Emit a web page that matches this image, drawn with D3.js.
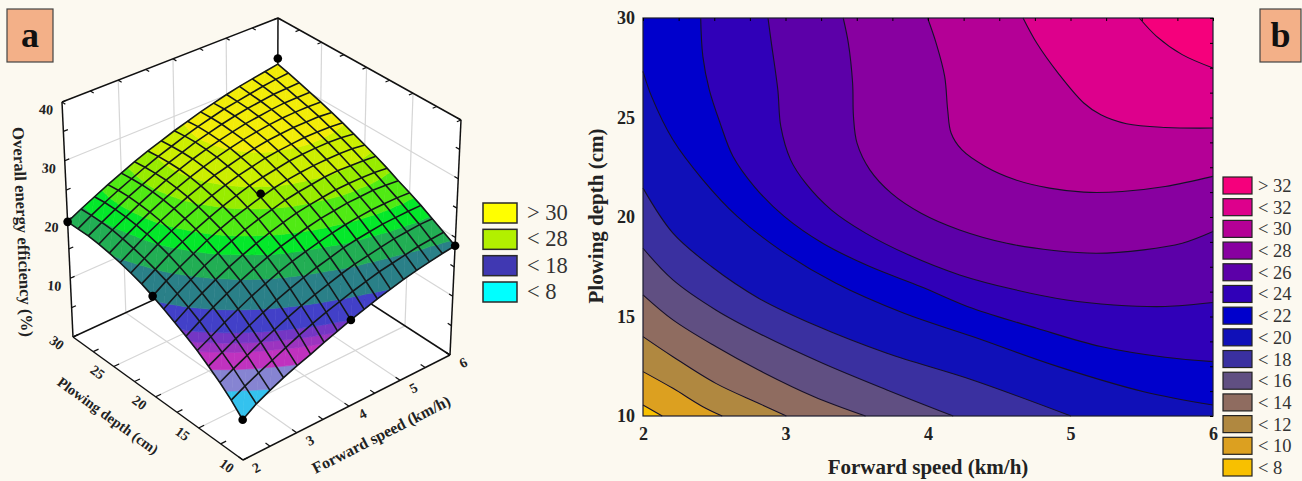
<!DOCTYPE html>
<html>
<head>
<meta charset="utf-8">
<script src="https://cdn.jsdelivr.net/npm/d3@7"></script>
<style>
html, body { margin: 0; padding: 0; background: #fcf9f0; }
svg { display: block; }
text { font-family: "Liberation Serif", serif; }
</style>
</head>
<body>
<svg id="chart" width="1302" height="481"></svg>
<script>
// panel a: surface, rows are plowing depth, columns forward speed
const surfaceSpeeds = [2, 2.25, 2.5, 2.75, 3, 3.25, 3.5, 3.75, 4, 4.25, 4.5, 4.75, 5, 5.25, 5.5, 5.75, 6];
const surfaceDepths = [10, 11.25, 12.5, 13.75, 15, 16.25, 17.5, 18.75, 20, 21.25, 22.5, 23.75, 25, 26.25, 27.5, 28.75, 30];
const surfaceValues = [
  [6.6, 8.1, 9.2, 10.2, 11.1, 11.9, 12.8, 13.6, 14.4, 15.1, 15.8, 16.4, 17.0, 17.5, 17.9, 18.3, 18.6],
  [8.5, 9.7, 10.8, 11.8, 12.8, 13.8, 14.7, 15.5, 16.2, 16.9, 17.5, 18.1, 18.5, 18.9, 19.3, 19.5, 19.7],
  [10.1, 11.3, 12.4, 13.5, 14.5, 15.5, 16.4, 17.2, 17.9, 18.6, 19.2, 19.6, 20.0, 20.4, 20.6, 20.8, 20.8],
  [11.5, 12.7, 13.9, 15.0, 16.1, 17.1, 18.0, 18.8, 19.5, 20.1, 20.7, 21.1, 21.4, 21.7, 21.8, 21.9, 21.9],
  [12.8, 14.0, 15.3, 16.5, 17.6, 18.6, 19.5, 20.3, 20.9, 21.5, 22.0, 22.4, 22.7, 22.9, 23.0, 23.0, 22.9],
  [13.9, 15.3, 16.6, 17.8, 18.9, 19.9, 20.8, 21.6, 22.2, 22.8, 23.3, 23.6, 23.9, 24.0, 24.1, 24.0, 23.8],
  [14.9, 16.4, 17.7, 18.9, 20.0, 21.0, 21.9, 22.7, 23.4, 24.0, 24.4, 24.7, 25.0, 25.1, 25.1, 25.0, 24.8],
  [15.9, 17.4, 18.7, 20.0, 21.1, 22.1, 23.0, 23.8, 24.4, 25.0, 25.4, 25.7, 26.0, 26.1, 26.0, 25.9, 25.7],
  [16.8, 18.3, 19.6, 20.8, 22.0, 23.0, 23.9, 24.6, 25.3, 25.9, 26.3, 26.6, 26.8, 26.9, 26.9, 26.8, 26.5],
  [17.6, 19.0, 20.4, 21.6, 22.7, 23.7, 24.6, 25.4, 26.1, 26.6, 27.0, 27.4, 27.6, 27.7, 27.7, 27.6, 27.3],
  [18.2, 19.6, 21.0, 22.2, 23.3, 24.3, 25.2, 26.0, 26.7, 27.2, 27.7, 28.0, 28.2, 28.4, 28.4, 28.3, 28.1],
  [18.7, 20.1, 21.5, 22.7, 23.8, 24.8, 25.7, 26.5, 27.1, 27.7, 28.2, 28.6, 28.8, 29.0, 29.0, 29.0, 28.8],
  [19.1, 20.5, 21.8, 23.0, 24.1, 25.1, 26.0, 26.8, 27.5, 28.1, 28.6, 29.0, 29.3, 29.5, 29.6, 29.6, 29.5],
  [19.4, 20.8, 22.0, 23.2, 24.3, 25.3, 26.2, 27.0, 27.7, 28.3, 28.8, 29.3, 29.6, 29.9, 30.1, 30.1, 30.1],
  [19.6, 20.9, 22.1, 23.3, 24.3, 25.3, 26.2, 27.0, 27.8, 28.4, 29.0, 29.5, 29.9, 30.2, 30.5, 30.6, 30.7],
  [19.6, 20.9, 22.1, 23.2, 24.2, 25.2, 26.1, 26.9, 27.7, 28.4, 29.0, 29.6, 30.0, 30.4, 30.8, 31.1, 31.3],
  [19.6, 20.8, 21.9, 23.0, 24.0, 25.0, 25.9, 26.7, 27.5, 28.2, 28.9, 29.5, 30.1, 30.6, 31.0, 31.4, 31.8]
];
// measured points shown as black dots: speed, depth, efficiency
const measuredPoints = [[6, 30, 32.8], [2, 30, 19.6], [6, 10, 18.6], [4, 20, 25.9], [2, 20, 16.8], [4, 10, 14.4], [2, 10, 6.6]];

const surfaceBreaks = [9.3, 11.2, 12.7, 13.5, 14.4, 16.4, 19, 21, 22.5, 24.5, 26, 28];
const surfaceColors = ["#34c2ee", "#8684d2", "#c032bf", "#9c34c0", "#7436c4", "#4240c8", "#2a8088", "#22ae54",
  "#04e82a", "#50ea14", "#98ec00", "#ccee00", "#f2ec08"];
const surfaceLegend = ["> 30", "< 28", "< 18", "< 8"];
const surfaceLegendColors = ["#ffff00", "#b2f000", "#4038b2", "#00ffff"];

const speedTicks = [2, 3, 4, 5, 6];
const depthTicks = [10, 15, 20, 25, 30];
const effTicks = [10, 20, 30, 40];

// panel b: contour lines, [speed, depth]
const contour8 = [[2, 10.55], [2.135, 10]];
const contour10 = [[2, 12.23], [2.21, 11.39], [2.42, 10.47], [2.556, 10]];
const contour12 = [[2, 13.99], [2.21, 12.98], [2.511, 11.64], [2.811, 10.64], [3.006, 10]];
const contour14 = [[2, 16.09], [2.21, 14.83], [2.511, 13.49], [2.811, 12.31], [3.201, 10.97], [3.562, 10]];
const contour16 = [[2, 18.43], [2.21, 16.84], [2.511, 15.33], [2.811, 14.16], [3.261, 12.65], [3.712, 11.31], [4.177, 10]];
const contour18 = [[2, 21.45], [2.21, 19.19], [2.48, 17.51], [2.811, 15.92], [3.201, 14.58], [3.712, 13.15], [4.312, 11.81], [5.003, 10]];
const contour20 = [[2, 27.32], [2.06, 26.06], [2.21, 23.88], [2.42, 21.87], [2.661, 20.03], [2.961, 18.35], [3.351, 16.68], [3.832, 15.16], [4.312, 13.99], [4.913, 12.48], [5.514, 11.22], [6, 10.55]];
const contour22 = [[2.405, 30], [2.42, 28.07], [2.465, 26.4], [2.541, 24.72], [2.631, 23.05], [2.781, 21.53], [2.991, 20.03], [3.261, 18.68], [3.592, 17.51], [3.952, 16.5], [4.312, 15.41], [4.763, 14.41], [5.213, 13.49], [5.664, 12.95], [6, 12.73]];
const contour24 = [[2.877, 30], [2.901, 28.74], [2.946, 26.4], [2.967, 24.55], [3.036, 22.87], [3.141, 21.7], [3.321, 20.36], [3.562, 19.19], [3.862, 18.1], [4.222, 17.09], [4.613, 16.34], [4.973, 15.83], [5.303, 15.58], [5.664, 15.5], [6, 15.7]];
const contour26 = [[3.405, 30], [3.441, 28.74], [3.471, 26.73], [3.477, 25.05], [3.502, 23.71], [3.592, 22.37], [3.742, 21.2], [3.952, 20.19], [4.222, 19.35], [4.553, 18.68], [4.883, 18.32], [5.183, 18.18], [5.514, 18.35], [5.784, 18.68], [6, 19.27]];
const contour28 = [[3.997, 30], [4.057, 28.74], [4.117, 27.07], [4.138, 25.39], [4.162, 24.22], [4.237, 23.38], [4.402, 22.54], [4.613, 21.87], [4.853, 21.45], [5.093, 21.25], [5.363, 21.28], [5.664, 21.53], [6, 22.04]];
const contour30 = [[4.667, 30], [4.763, 28.74], [4.913, 27.23], [5.093, 25.73], [5.213, 25.14], [5.393, 24.69], [5.664, 24.5], [6, 24.47]];
const contour32 = [[5.483, 30], [5.604, 29.08], [5.784, 28.16], [6, 27.49]];
const contourLines = [contour8, contour10, contour12, contour14, contour16, contour18, contour20, contour22, contour24, contour26, contour28, contour30, contour32];

const mapLegend = ["> 32", "< 32", "< 30", "< 28", "< 26", "< 24", "< 22", "< 20", "< 18", "< 16", "< 14", "< 12", "< 10", "< 8"];
const mapColors = ["#f5007c", "#dd008c", "#b40096", "#8800a0", "#5c00a8", "#3000b8", "#0000cc", "#1010b8",
  "#3a30a0", "#604f82", "#8f6c60", "#b08840", "#dca020", "#f8c000"];

const svg = d3.select("#chart");

// ---------- panel a ----------
// floor and top of the box: front, right, back, left corner
const floorQuad = [[243, 460], [450, 355], [277, 243], [73, 337]];
const topQuad = [[241, 216], [461, 120], [278, 18], [62, 102]];

function homography(q) {
  const [x0, y0] = q[0], [x1, y1] = q[1], [x2, y2] = q[2], [x3, y3] = q[3];
  const dx1 = x1 - x2, dx2 = x3 - x2, sx = x0 - x1 + x2 - x3;
  const dy1 = y1 - y2, dy2 = y3 - y2, sy = y0 - y1 + y2 - y3;
  const den = dx1 * dy2 - dx2 * dy1;
  const g = (sx * dy2 - dx2 * sy) / den, h = (dx1 * sy - sx * dy1) / den;
  const a = x1 - x0 + g * x1, b = x3 - x0 + h * x3, d = y1 - y0 + g * y1, e = y3 - y0 + h * y3;
  return (u, v) => {
    const w = g * u + h * v + 1;
    return [(a * u + b * v + x0) / w, (d * u + e * v + y0) / w];
  };
}
const floorMap = homography(floorQuad), topMap = homography(topQuad);
const uScale = d3.scaleLinear().domain([2, 6]).range([0, 1]);
const vScale = d3.scaleLinear().domain([10, 30]).range([0, 1]);
const zScale = d3.scaleLinear().domain([0, 40]).range([0, 1]);

function project(speed, depth, eff) {
  const u = uScale(speed), v = vScale(depth), t = zScale(eff);
  const f = floorMap(u, v), c = topMap(u, v);
  return [f[0] + (c[0] - f[0]) * t, f[1] + (c[1] - f[1]) * t];
}
const pathOf = d3.line();
const gA = svg.append("g");

// walls and floor
const walls = [
  [[2, 10, 0], [6, 10, 0], [6, 30, 0], [2, 30, 0]],
  [[2, 30, 0], [6, 30, 0], [6, 30, 40], [2, 30, 40]],
  [[6, 10, 0], [6, 30, 0], [6, 30, 40], [6, 10, 40]]
];
gA.selectAll(".wall").data(walls).join("path").attr("class", "wall")
  .attr("d", w => pathOf(w.map(p => project(...p))) + "Z").attr("fill", "#fff");

const gridLines = [];
[3, 4, 5].forEach(s => {
  gridLines.push([[s, 10, 0], [s, 30, 0]]);
  gridLines.push([[s, 30, 0], [s, 30, 40]]);
});
[15, 20, 25].forEach(d => {
  gridLines.push([[2, d, 0], [6, d, 0]]);
  gridLines.push([[6, d, 0], [6, d, 40]]);
});
[10, 20, 30].forEach(z => {
  gridLines.push([[2, 30, z], [6, 30, z]]);
  gridLines.push([[6, 10, z], [6, 30, z]]);
});
gA.selectAll(".grid3d").data(gridLines).join("path").attr("class", "grid3d")
  .attr("d", l => pathOf(l.map(p => project(...p))))
  .attr("stroke", "#d6d6d6").attr("stroke-width", 1.2).attr("fill", "none");

const boxEdges = [
  [[2, 10, 0], [6, 10, 0]], [[2, 10, 0], [2, 30, 0]], [[2, 30, 0], [6, 30, 0]], [[6, 10, 0], [6, 30, 0]],
  [[2, 30, 0], [2, 30, 40]], [[6, 10, 0], [6, 10, 40]], [[6, 30, 0], [6, 30, 40]],
  [[2, 30, 40], [6, 30, 40]], [[6, 10, 40], [6, 30, 40]]
];
gA.selectAll(".edge").data(boxEdges).join("path").attr("class", "edge")
  .attr("d", l => pathOf(l.map(p => project(...p))))
  .attr("stroke", "#111").attr("stroke-width", 1.5).attr("fill", "none");

// small tick marks along the outer edges
const edgeTicks = [];
d3.range(2, 6.01, 0.5).forEach(s => {
  edgeTicks.push([[s, 10, 0], [s, 10.5, 0]]);
  edgeTicks.push([[s, 30, 40], [s, 29.6, 40]]);
});
d3.range(10, 30.01, 2.5).forEach(d => {
  edgeTicks.push([[2, d, 0], [2.1, d, 0]]);
  edgeTicks.push([[6, d, 40], [5.92, d, 40]]);
});
d3.range(0, 40.01, 5).forEach(z => {
  edgeTicks.push([[2, 30, z], [2.08, 30, z]]);
  edgeTicks.push([[6, 10, z], [6, 10.4, z]]);
});
gA.selectAll(".tick3d").data(edgeTicks).join("path").attr("class", "tick3d")
  .attr("d", l => pathOf(l.map(p => project(...p))))
  .attr("stroke", "#111").attr("stroke-width", 1.2).attr("fill", "none");

// cut one triangle to the part between two efficiency values
function clipTriangle(tri, lo, hi) {
  function cut(poly, inside, limit) {
    const out = [];
    poly.forEach((p, i) => {
      const q = poly[(i + 1) % poly.length];
      const pin = inside(p[2]), qin = inside(q[2]);
      if (pin) out.push(p);
      if (pin !== qin) {
        const t = (limit - p[2]) / (q[2] - p[2]);
        out.push([p[0] + (q[0] - p[0]) * t, p[1] + (q[1] - p[1]) * t, limit]);
      }
    });
    return out;
  }
  return cut(cut(tri, z => z >= lo, lo), z => z <= hi, hi);
}

const bandEdges = [-Infinity].concat(surfaceBreaks, [Infinity]);
const surfacePolys = [];
for (let j = surfaceDepths.length - 2; j >= 0; j--) {
  for (let i = surfaceSpeeds.length - 2; i >= 0; i--) {
    const node = (a, b) => [surfaceSpeeds[a], surfaceDepths[b], surfaceValues[b][a]];
    const tris = [[node(i, j), node(i + 1, j), node(i + 1, j + 1)], [node(i, j), node(i + 1, j + 1), node(i, j + 1)]];
    tris.forEach(t => surfaceColors.forEach((c, k) => {
      const poly = clipTriangle(t, bandEdges[k], bandEdges[k + 1]);
      if (poly.length > 2) surfacePolys.push({poly: poly, color: c});
    }));
  }
}
gA.selectAll(".cell").data(surfacePolys).join("path").attr("class", "cell")
  .attr("d", c => pathOf(c.poly.map(p => project(...p))) + "Z")
  .attr("fill", c => c.color).attr("stroke", c => c.color).attr("stroke-width", 0.6);

const meshLines = surfaceDepths.map((d, j) => surfaceSpeeds.map((s, i) => [s, d, surfaceValues[j][i]]))
  .concat(surfaceSpeeds.map((s, i) => surfaceDepths.map((d, j) => [s, d, surfaceValues[j][i]])));
gA.selectAll(".mesh").data(meshLines).join("path").attr("class", "mesh")
  .attr("d", l => pathOf(l.map(p => project(...p))))
  .attr("stroke", "#14181a").attr("stroke-width", 1.6).attr("fill", "none");

gA.selectAll(".point").data(measuredPoints).join("circle").attr("class", "point")
  .attr("cx", p => project(...p)[0]).attr("cy", p => project(...p)[1])
  .attr("r", 4.3).attr("fill", "#000");

// axis text of the box
function slanted(x, y, angle, txt, size) {
  return gA.append("text").attr("transform", `translate(${x},${y}) rotate(${angle})`)
    .attr("text-anchor", "middle").attr("dominant-baseline", "middle")
    .attr("font-size", size).attr("font-weight", "bold").attr("fill", "#222").text(txt);
}
speedTicks.forEach(s => {
  const p = project(s, 10, 0);
  slanted(p[0] + 14, p[1] + 9, -27, s, 14);
});
depthTicks.forEach(d => {
  const p = project(2, d, 0);
  slanted(p[0] - 17, p[1] + 7, 36, d, 14);
});
effTicks.forEach(z => {
  const p = project(2, 30, z);
  slanted(p[0] - 16, p[1] + 9, 4, z, 14);
});
slanted(382, 436, -27, "Forward speed (km/h)", 16);
slanted(107, 417, 36, "Plowing depth (cm)", 14.5);
slanted(21, 232, 87.5, "Overall energy efficiency (%)", 16.7);

// legend of panel a
const legA = gA.selectAll(".legA").data(surfaceLegend).join("g").attr("class", "legA");
const legAY = d3.scalePoint().domain(surfaceLegend).range([203, 282]);
legA.append("rect").attr("x", 483).attr("y", d => legAY(d)).attr("width", 34).attr("height", 20)
  .attr("fill", (d, i) => surfaceLegendColors[i]).attr("stroke", "#2a2a2a").attr("stroke-width", 1.5);
legA.append("text").attr("x", 527).attr("y", d => legAY(d) + 17).attr("font-size", 22.5).attr("fill", "#333").text(d => d);

// ---------- panel b ----------
const x = d3.scaleLinear().domain([2, 6]).range([643, 1213]);
const y = d3.scaleLinear().domain([10, 30]).range([416, 18]);
const gB = svg.append("g");

gB.append("rect").attr("x", x(2)).attr("y", y(30)).attr("width", x(6) - x(2)).attr("height", y(10) - y(30))
  .attr("fill", mapColors[13]);

const contourPath = d3.line().x(p => x(p[0])).y(p => y(p[1])).curve(d3.curveCatmullRom.alpha(0.5));
function bandOutline(pts) {
  const first = pts[0], last = pts[pts.length - 1];
  const tail = [];
  if (last[1] === 10) tail.push([6, 10]);
  tail.push([6, 30]);
  if (first[0] === 2) tail.push([2, 30]);
  return contourPath(pts) + tail.map(p => "L" + x(p[0]) + "," + y(p[1])).join("") + "Z";
}
gB.selectAll(".band").data(contourLines).join("path").attr("class", "band")
  .attr("d", bandOutline).attr("fill", (d, i) => mapColors[12 - i]);
gB.selectAll(".contour").data(contourLines).join("path").attr("class", "contour")
  .attr("d", contourPath).attr("fill", "none").attr("stroke", "#16102a").attr("stroke-width", 1.1);

gB.append("rect").attr("x", x(2)).attr("y", y(30)).attr("width", x(6) - x(2)).attr("height", y(10) - y(30))
  .attr("fill", "none").attr("stroke", "#1c1c30").attr("stroke-width", 1.2);

const xAxis = d3.axisBottom(x).tickValues(speedTicks).tickFormat(d3.format("d")).tickSize(0).tickPadding(11);
const yAxis = d3.axisLeft(y).tickValues(depthTicks).tickFormat(d3.format("d")).tickSize(0).tickPadding(8);
gB.append("g").attr("transform", "translate(0,416)").call(xAxis).call(g => g.select(".domain").remove())
  .selectAll("text").attr("font-size", 18).attr("font-weight", "bold").attr("fill", "#222")
  .style("font-family", '"Liberation Serif", serif');
gB.append("g").attr("transform", "translate(643,0)").call(yAxis).call(g => g.select(".domain").remove())
  .selectAll("text").attr("font-size", 18).attr("font-weight", "bold").attr("fill", "#222")
  .style("font-family", '"Liberation Serif", serif');

// short inner ticks on top and right
const topAxis = d3.axisTop(x).tickValues(d3.range(2, 6.01, 0.25)).tickFormat("").tickSize(-3);
const rightAxis = d3.axisRight(y).tickValues(d3.range(10, 30.01, 1.25)).tickFormat("").tickSize(-3);
gB.append("g").attr("transform", "translate(0,18)").call(topAxis).call(g => g.select(".domain").remove());
gB.append("g").attr("transform", "translate(1213,0)").call(rightAxis).call(g => g.select(".domain").remove());

gB.append("text").attr("x", 928).attr("y", 474).attr("text-anchor", "middle")
  .attr("font-size", 21).attr("font-weight", "bold").attr("fill", "#222").text("Forward speed (km/h)");
gB.append("text").attr("transform", "translate(603,216) rotate(-90)").attr("text-anchor", "middle")
  .attr("font-size", 21).attr("font-weight", "bold").attr("fill", "#222").text("Plowing depth (cm)");

const legB = gB.selectAll(".legB").data(mapLegend).join("g").attr("class", "legB");
const legBY = d3.scalePoint().domain(mapLegend).range([177, 459]);
legB.append("rect").attr("x", 1223).attr("y", d => legBY(d)).attr("width", 29).attr("height", 17)
  .attr("fill", (d, i) => mapColors[i]).attr("stroke", "#222").attr("stroke-width", 1.2);
legB.append("text").attr("x", 1258).attr("y", d => legBY(d) + 15).attr("font-size", 18.5).attr("fill", "#333").text(d => d);

// panel letters
const tags = svg.selectAll(".tag").data([{t: "a", x: 7, w: 46}, {t: "b", x: 1260, w: 41}]).join("g").attr("class", "tag");
tags.append("rect").attr("x", d => d.x).attr("y", 9).attr("width", d => d.w).attr("height", 53)
  .attr("fill", "#f3b088").attr("stroke", "#444").attr("stroke-width", 1.2);
tags.append("text").attr("x", d => d.x + d.w / 2).attr("y", 47).attr("text-anchor", "middle")
  .attr("font-size", 36).attr("font-weight", "bold").attr("fill", "#111").text(d => d.t);
</script>
</body>
</html>
